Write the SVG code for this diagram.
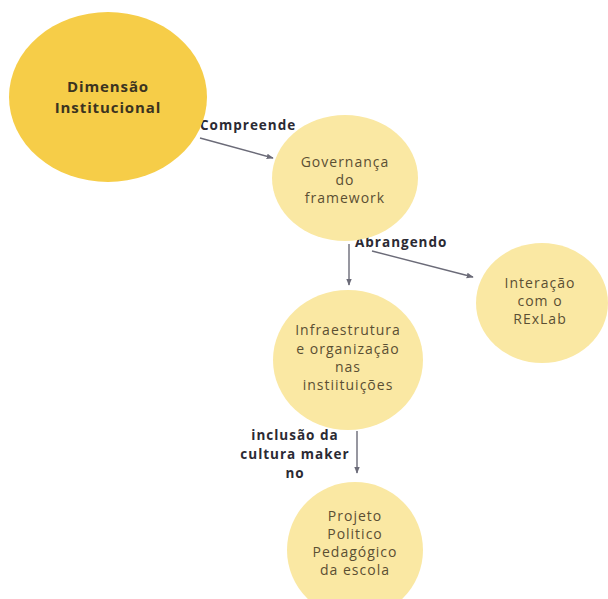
<svg xmlns="http://www.w3.org/2000/svg" width="608" height="599" viewBox="0 0 608 599">
  <defs>
    <marker id="arrow" viewBox="0 0 10 10" refX="9" refY="5" markerWidth="5" markerHeight="5" orient="auto-start-reverse">
      <path d="M0,1 L10,5 L0,9 z" fill="#6b6b78"/>
    </marker>
  </defs>
  <style>
    .main { fill: #f6cd48; }
    .sub { fill: #fae8a3; }
    .title { font-family: "Open Sans", "Liberation Sans", sans-serif; font-weight: 700; font-size: 15px; fill: #3b3320; text-anchor: middle; letter-spacing: 0.9px; }
    .node { font-family: "Open Sans", "Liberation Sans", sans-serif; font-size: 14px; fill: #5a4f33; text-anchor: middle; letter-spacing: 1px; }
    .edge { font-family: "Open Sans", "Liberation Sans", sans-serif; font-weight: 700; font-size: 13.5px; fill: #2b2a33; letter-spacing: 1px; }
    .link { stroke: #6b6b78; stroke-width: 1.4; fill: none; marker-end: url(#arrow); }
  </style>
  <rect width="608" height="599" fill="#ffffff"/>

  <g id="connectors">
    <line class="link" x1="200" y1="138" x2="273" y2="158"/>
    <line class="link" x1="349" y1="244" x2="349" y2="285"/>
    <line class="link" x1="372" y1="251" x2="473" y2="277"/>
    <line class="link" x1="357" y1="431" x2="357" y2="473"/>
    <text class="edge" x="200" y="130">Compreende</text>
    <text class="edge" x="355" y="247">Abrangendo</text>
    <text class="edge" x="295" y="440" text-anchor="middle">inclusão da</text>
    <text class="edge" x="295" y="459" text-anchor="middle">cultura maker</text>
    <text class="edge" x="295" y="478" text-anchor="middle">no</text>
  </g>

  <g id="dimensao">
    <ellipse class="main" cx="108" cy="97" rx="99" ry="85"/>
    <text class="title" x="108" y="92">Dimensão</text>
    <text class="title" x="108" y="113">Institucional</text>
  </g>

  <g id="governanca">
    <ellipse class="sub" cx="345" cy="178" rx="73" ry="63"/>
    <text class="node" x="345" y="167">Governança</text>
    <text class="node" x="345" y="185">do</text>
    <text class="node" x="345" y="203">framework</text>
  </g>

  <g id="interacao">
    <ellipse class="sub" cx="542" cy="303" rx="66" ry="60"/>
    <text class="node" x="540" y="288">Interação</text>
    <text class="node" x="540" y="306">com o</text>
    <text class="node" x="540" y="324">RExLab</text>
  </g>

  <g id="infraestrutura">
    <ellipse class="sub" cx="348" cy="360" rx="75" ry="70"/>
    <text class="node" x="348" y="335">Infraestrutura</text>
    <text class="node" x="348" y="354">e organização</text>
    <text class="node" x="348" y="372">nas</text>
    <text class="node" x="348" y="390">instiituições</text>
  </g>

  <g id="projeto">
    <ellipse class="sub" cx="355" cy="550" rx="68" ry="68"/>
    <text class="node" x="355" y="521">Projeto</text>
    <text class="node" x="355" y="539">Politico</text>
    <text class="node" x="355" y="557">Pedagógico</text>
    <text class="node" x="355" y="575">da escola</text>
  </g>
</svg>
